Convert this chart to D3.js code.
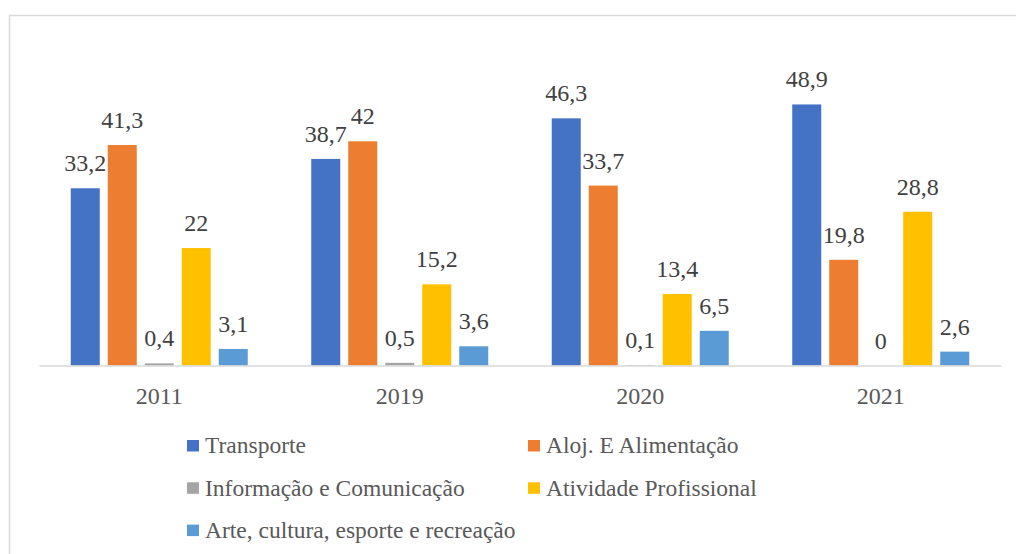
<!DOCTYPE html>
<html>
<head>
<meta charset="utf-8">
<script src="https://cdn.jsdelivr.net/npm/d3@7"></script>
</head>
<body style="margin:0; background:#fff">
<div id="chart"></div>
<script>
let years = ['2011', '2019', '2020', '2021']
let seriesNames = ['Transporte', 'Aloj. E Alimentação', 'Informação e Comunicação', 'Atividade Profissional', 'Arte, cultura, esporte e recreação']
let transporte = [33.2, 38.7, 46.3, 48.9]
let alojamento = [41.3, 42, 33.7, 19.8]
let informacao = [0.4, 0.5, 0.1, 0]
let atividade = [22, 15.2, 13.4, 28.8]
let arte = [3.1, 3.6, 6.5, 2.6]
let colors = ['#4472C4', '#ED7D31', '#A5A5A5', '#FFC000', '#5B9BD5']

let seriesValues = [transporte, alojamento, informacao, atividade, arte]

let svgWidth = 1016
let svgHeight = 554
let serifFont = 'Liberation Serif'

let svg = d3
  .select('#chart')
  .append('svg')
  .attr('width', svgWidth)
  .attr('height', svgHeight)

// chart frame (right and bottom edges fall outside the picture)
svg
  .append('rect')
  .attr('x', 9.5)
  .attr('y', 15.5)
  .attr('width', 1020)
  .attr('height', 560)
  .attr('fill', 'white')
  .attr('stroke', '#d9d9d9')
  .attr('stroke-width', 1.5)

let x0 = d3.scaleBand().domain(years).range([39, 1001])
let x1 = d3
  .scaleBand()
  .domain(seriesNames)
  .range([0, x0.bandwidth()])
  .paddingInner(0.216)
  .paddingOuter(0.858)
let y = d3.scaleLinear().domain([0, 60]).range([365.5, 45.2])

let fmt = v => String(v).replace('.', ',')

let rows = []
years.forEach((yr, i) => {
  seriesNames.forEach((s, j) => {
    rows.push({ year: yr, series: s, value: seriesValues[j][i], color: colors[j] })
  })
})

svg
  .append('g')
  .selectAll('rect')
  .data(rows)
  .enter()
  .append('rect')
  .attr('x', d => x0(d.year) + x1(d.series))
  .attr('y', d => y(d.value))
  .attr('width', x1.bandwidth())
  .attr('height', d => y(0) - y(d.value))
  .attr('fill', d => d.color)

svg
  .append('g')
  .selectAll('text')
  .data(rows)
  .enter()
  .append('text')
  .attr('x', d => x0(d.year) + x1(d.series) + x1.bandwidth() / 2)
  .attr('y', d => y(d.value) - 17)
  .attr('text-anchor', 'middle')
  .attr('font-family', serifFont)
  .attr('font-size', '24px')
  .attr('fill', '#404040')
  .text(d => fmt(d.value))

let xAxis = d3.axisBottom(x0).tickSize(0).tickPadding(21)
let axisG = svg
  .append('g')
  .attr('transform', 'translate(0,' + y(0) + ')')
  .call(xAxis)
  .attr('font-family', serifFont)
axisG.select('.domain').attr('stroke', '#d9d9d9').attr('stroke-width', 1.5)
axisG
  .selectAll('text')
  .attr('font-family', serifFont)
  .attr('font-size', '24px')
  .attr('fill', '#595959')

// legend
let legend = svg
  .append('g')
  .selectAll('g')
  .data(seriesNames)
  .enter()
  .append('g')
  .attr('transform', (d, i) => 'translate(' + (i % 2 === 0 ? 187 : 528) + ',' + (440 + Math.floor(i / 2) * 42.3) + ')')

legend
  .append('rect')
  .attr('width', 12)
  .attr('height', 11.5)
  .attr('fill', (d, i) => colors[i])

legend
  .append('text')
  .attr('x', 18)
  .attr('y', 13.3)
  .attr('font-family', serifFont)
  .attr('font-size', '23.5px')
  .attr('fill', '#595959')
  .text(d => d)
</script>
</body>
</html>
